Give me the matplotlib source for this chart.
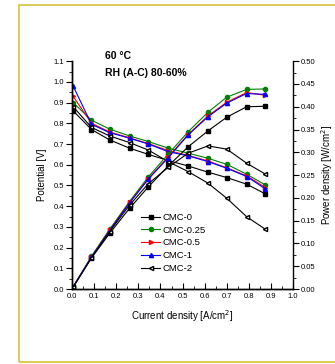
import numpy as np
import matplotlib
matplotlib.use('Agg')
import matplotlib.pyplot as plt
from matplotlib.patches import Rectangle
from matplotlib.ticker import MultipleLocator

plt.rcParams['font.family'] = ['Liberation Sans', 'DejaVu Sans']

# Current density [A/cm2]
current = [0.005, 0.088, 0.17, 0.26, 0.345, 0.435, 0.525, 0.615, 0.70, 0.79, 0.875]

# Potential [V]
v_cmc0 = [0.86, 0.77, 0.72, 0.68, 0.65, 0.62, 0.594, 0.564, 0.538, 0.506, 0.459]
v_cmc025 = [0.90, 0.815, 0.772, 0.739, 0.712, 0.68, 0.656, 0.631, 0.602, 0.554, 0.502]
v_cmc05 = [0.93, 0.80, 0.758, 0.73, 0.702, 0.668, 0.645, 0.618, 0.585, 0.546, 0.49]
v_cmc1 = [0.98, 0.795, 0.755, 0.728, 0.70, 0.663, 0.643, 0.615, 0.583, 0.543, 0.483]
v_cmc2 = [0.88, 0.78, 0.739, 0.707, 0.671, 0.615, 0.567, 0.511, 0.438, 0.349, 0.288]

# Power density [W/cm2]
p_cmc0 = [0.004, 0.068, 0.122, 0.177, 0.224, 0.27, 0.312, 0.347, 0.377, 0.40, 0.401]
p_cmc025 = [0.005, 0.072, 0.131, 0.192, 0.246, 0.296, 0.345, 0.388, 0.421, 0.438, 0.439]
p_cmc05 = [0.005, 0.07, 0.129, 0.19, 0.242, 0.29, 0.339, 0.38, 0.41, 0.431, 0.425]
p_cmc1 = [0.005, 0.07, 0.128, 0.189, 0.241, 0.288, 0.338, 0.378, 0.408, 0.429, 0.427]
p_cmc2 = [0.004, 0.069, 0.126, 0.184, 0.231, 0.267, 0.298, 0.314, 0.307, 0.276, 0.252]

labels = ['CMC-0', 'CMC-0.25', 'CMC-0.5', 'CMC-1', 'CMC-2']
colors = ['black', '#008000', 'red', 'blue', 'black']
markers = ['s', 'o', '>', '^', '<']
fills = ['black', '#008000', 'red', 'blue', 'white']

potentials = [v_cmc0, v_cmc025, v_cmc05, v_cmc1, v_cmc2]
powers = [p_cmc0, p_cmc025, p_cmc05, p_cmc1, p_cmc2]

fig = plt.figure(figsize=(3.35, 3.64), dpi=100)
ax = fig.add_axes([0.215, 0.206, 0.66, 0.626])
ax2 = ax.twinx()

handles = []
for v, p, lab, c, m, f in zip(potentials, powers, labels, colors, markers, fills):
    h, = ax.plot(current, v, color=c, marker=m, markerfacecolor=f,
                 markeredgecolor=c, markersize=3, linewidth=0.8, label=lab)
    ax2.plot(current, p, color=c, marker=m, markerfacecolor=f,
             markeredgecolor=c, markersize=3, linewidth=0.8)
    handles.append(h)

ax.set_xlim(0, 1.0)
ax.set_ylim(0, 1.1)
ax2.set_ylim(0, 0.5)

ax.xaxis.set_major_locator(MultipleLocator(0.1))
ax.xaxis.set_minor_locator(MultipleLocator(0.05))
ax.yaxis.set_major_locator(MultipleLocator(0.1))
ax.yaxis.set_minor_locator(MultipleLocator(0.05))
ax2.yaxis.set_major_locator(MultipleLocator(0.05))
ax2.yaxis.set_minor_locator(MultipleLocator(0.025))

for a in (ax, ax2):
    a.spines['top'].set_visible(False)
    for s in a.spines.values():
        s.set_linewidth(1.0)
ax.spines['right'].set_visible(False)

ax.tick_params(axis='x', which='major', direction='in', length=4, width=0.8,
               labelsize=5.5, pad=3)
ax.tick_params(axis='x', which='minor', direction='in', length=2, width=0.6)
ax.tick_params(axis='y', which='major', direction='out', length=4, width=0.8,
               labelsize=5.5, pad=1.5)
ax.tick_params(axis='y', which='minor', direction='out', length=2, width=0.6)
ax2.tick_params(axis='y', which='major', direction='out', length=4, width=0.8,
                labelsize=5.5, pad=1.5)
ax2.tick_params(axis='y', which='minor', direction='out', length=2, width=0.6)

ax.xaxis.set_major_formatter(matplotlib.ticker.FormatStrFormatter('%.1f'))
ax.yaxis.set_major_formatter(matplotlib.ticker.FormatStrFormatter('%.1f'))
ax2.yaxis.set_major_formatter(matplotlib.ticker.FormatStrFormatter('%.2f'))

ax.set_xlabel('Current density [A/cm$^2$]', fontsize=7, labelpad=6)
ax.set_ylabel('Potential [V]', fontsize=7, labelpad=5)
ax2.set_ylabel('Power density [W/cm$^2$]', fontsize=7, labelpad=3)

fig.text(0.313, 0.838, '60 °C', fontsize=7.5, fontweight='bold')
fig.text(0.313, 0.79, 'RH (A-C) 80-60%', fontsize=7.5, fontweight='bold')

fig.legend(handles=handles, loc='upper left', bbox_to_anchor=(0.408, 0.428),
           frameon=False, fontsize=6.8, handlelength=2.0, handletextpad=0.2,
           labelspacing=0.4, borderpad=0)

fig.patches.append(Rectangle((0.058, 0.005), 1.0, 0.981, transform=fig.transFigure,
                             fill=False, edgecolor='#d6c23a', linewidth=1.2))

fig.savefig('out.png', dpi=100)
